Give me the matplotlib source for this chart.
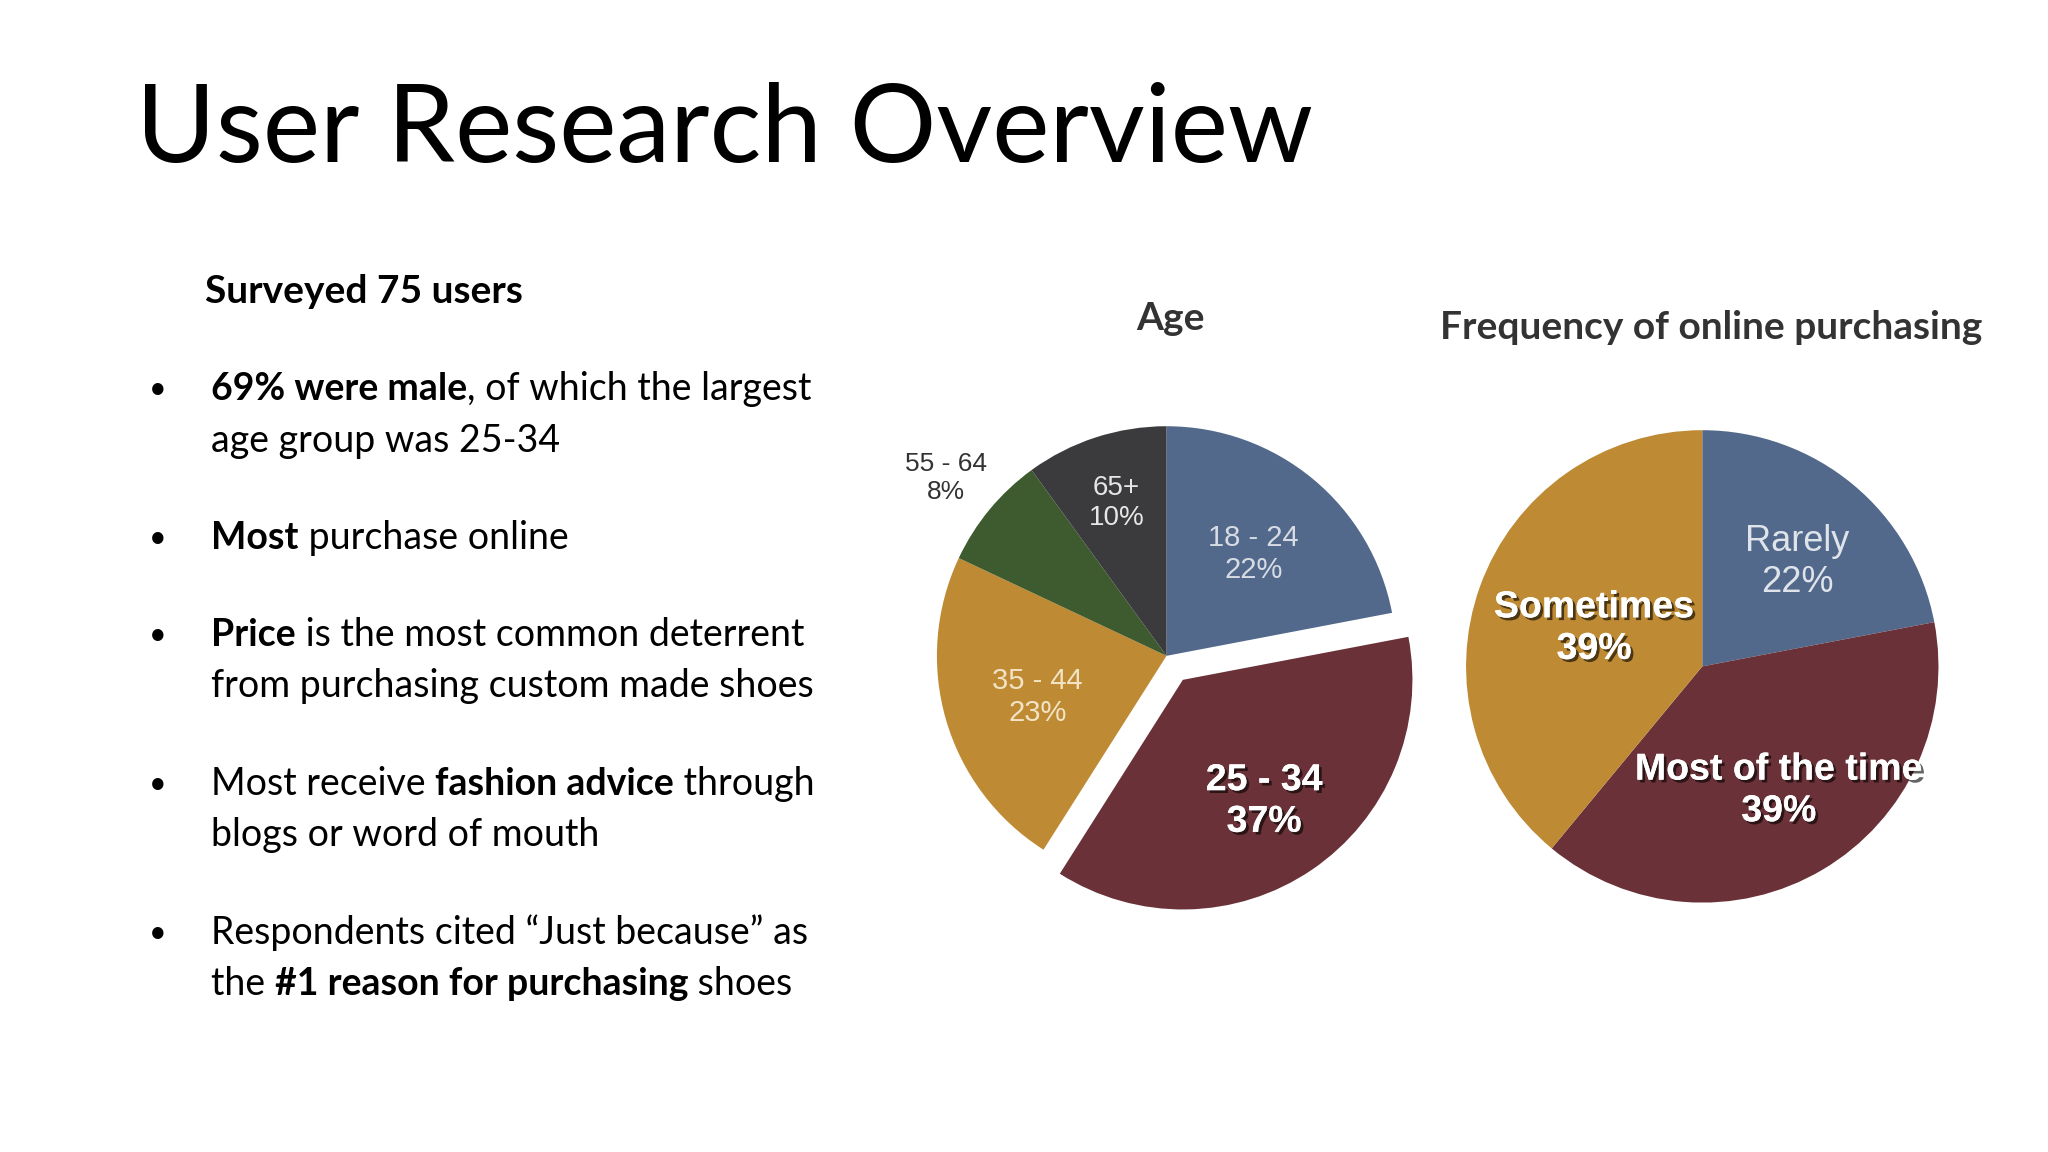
import matplotlib
matplotlib.use("Agg")
import matplotlib.pyplot as plt
import matplotlib.patheffects as pe

age_labels = ["18 - 24", "25 - 34", "35 - 44", "55 - 64", "65+"]
age_values = [22, 37, 23, 8, 10]
freq_labels = ["Rarely", "Most of the time", "Sometimes"]
freq_values = [22, 39, 39]

BLUE, RED, GOLD, GREEN, DARK = "#52698c", "#6a3238", "#bf8a34", "#3e5a2f", "#3b3a3c"

W, H = 1552, 873
fig = plt.figure(figsize=(20.48, 11.52), dpi=100)
ax = fig.add_axes([0, 0, 1, 1])
ax.set_xlim(0, W); ax.set_ylim(0, H); ax.set_aspect("equal"); ax.axis("off")
Y = lambda y: H - y

FONT = "Lato"
ax.text(103, Y(100), "User Research Overview", fontsize=78, family=FONT, va="center", color="black")
ax.text(155, Y(221), "Surveyed 75 users", fontsize=28, family=FONT, weight="bold", va="center")

fig.canvas.draw()
r = fig.canvas.get_renderer()
inv = ax.transData.inverted()

def runs(x, y, parts, size=27):
    for txt, bold in parts:
        t = ax.text(x, Y(y), txt, fontsize=size, family=FONT, weight="bold" if bold else "normal", va="center")
        bb = t.get_window_extent(renderer=r)
        x = inv.transform((bb.x1, bb.y0))[0]

bullets = [
    (295, [[("69% were male", True), (", of which the largest", False)], [("age group was 25-34", False)]]),
    (408, [[("Most", True), (" purchase online", False)]]),
    (481, [[("Price", True), (" is the most common deterrent", False)], [("from purchasing custom made shoes", False)]]),
    (594, [[("Most receive ", False), ("fashion advice", True), (" through", False)], [("blogs or word of mouth", False)]]),
    (707, [[("Respondents cited \u201cJust because\u201d as", False)], [("the ", False), ("#1 reason for purchasing", True), (" shoes", False)]]),
]
for y, lines in bullets:
    ax.text(113, Y(y), "\u2022", fontsize=22, family=FONT, va="center")
    for i, ln in enumerate(lines):
        runs(160, y + i * 39, ln)

# Age pie
ax.pie(age_values, colors=[BLUE, RED, GOLD, GREEN, DARK], startangle=90, counterclock=False,
       center=(884, Y(497)), radius=174, explode=[0, 22, 0, 0, 0],
       wedgeprops=dict(linewidth=0))
ax.set_xlim(0, W); ax.set_ylim(0, H)
ax.text(887, Y(241), "Age", fontsize=28, family=FONT, weight="bold", ha="center", va="center", color="#333")

# Frequency pie
ax.pie(freq_values, colors=[BLUE, RED, GOLD], startangle=90, counterclock=False,
       center=(1290, Y(505)), radius=179, wedgeprops=dict(linewidth=0))
ax.set_xlim(0, W); ax.set_ylim(0, H)
ax.text(1297, Y(248), "Frequency of online purchasing", fontsize=28, family=FONT, weight="bold",
        ha="center", va="center", color="#333")

SANS = "Liberation Sans"
shadow = [pe.withSimplePatchShadow(offset=(2, -2), shadow_rgbFace="black", alpha=0.6), pe.Normal()]
def lab(x, y, s, size, color, bold=False):
    t = ax.text(x, Y(y), s, fontsize=size, family=SANS, ha="center", va="center", color=color,
                weight="bold" if bold else "normal", linespacing=1.2)
    if bold:
        t.set_path_effects(shadow)

lab(950, 420, f"{age_labels[0]}\n{age_values[0]}%", 21, "#d7dbe3")
lab(958, 607, f"{age_labels[1]}\n{age_values[1]}%", 27, "white", True)
lab(786, 528, f"{age_labels[2]}\n{age_values[2]}%", 21, "#f2e3c5")
lab(717, 362, f"{age_labels[3]}\n{age_values[3]}%", 19, "#333")
lab(846, 381, f"{age_labels[4]}\n{age_values[4]}%", 20, "#e6e6e6")
lab(1362, 426, f"{freq_labels[0]}\n{freq_values[0]}%", 26, "#dfe3ea")
lab(1348, 599, f"{freq_labels[1]}\n{freq_values[1]}%", 27, "white", True)
lab(1208, 476, f"{freq_labels[2]}\n{freq_values[2]}%", 27, "white", True)

fig.savefig("out.png", dpi=100, facecolor="white")
